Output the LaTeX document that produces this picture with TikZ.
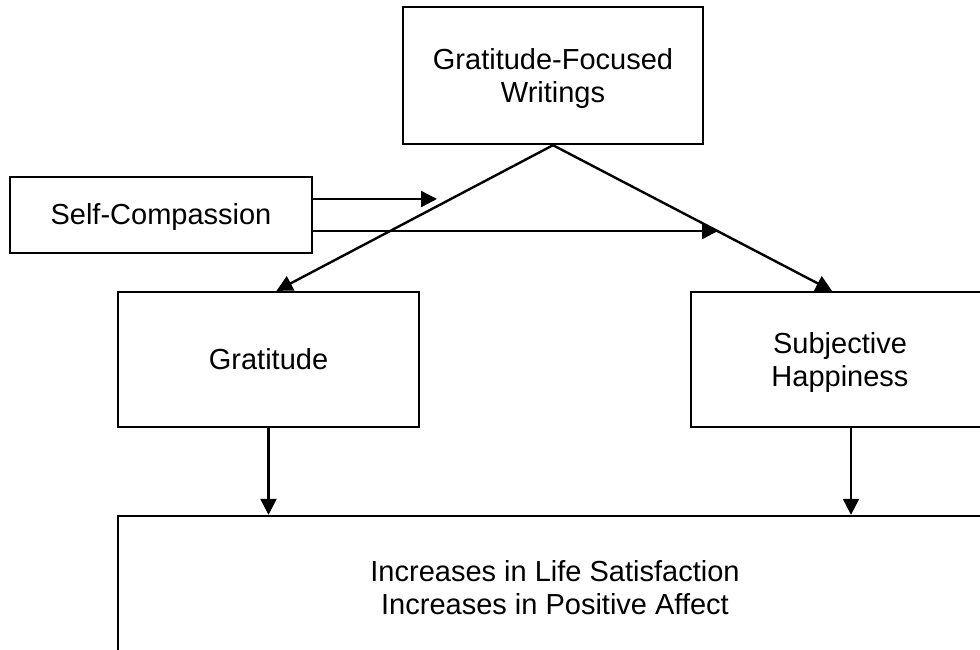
\documentclass[tikz,border=0pt]{standalone}
\usepackage{fontspec}
\setmainfont{Liberation Sans}
\usetikzlibrary{arrows.meta,calc}
\newcommand{\twolines}[2]{\raisebox{-4pt}[\height][\depth]{\begin{tabular}{@{}c@{}}#1\\#2\end{tabular}}}
\begin{document}
\begin{tikzpicture}[x=1pt,y=-1pt,
  box/.style={draw,line width=2.4pt,align=center,inner sep=0pt,
    font=\fontsize{29}{33}\selectfont},
  arr/.style={line width=2.4pt,-{Triangle[length=16pt,width=16pt]}}]
\useasboundingbox (0,0) rectangle (980,649);
\clip (0,0) rectangle (980,649);
\node[box,minimum width=300pt,minimum height=137pt] (top) at (553,75.5) {\twolines{Gratitude-Focused}{Writings}};
\node[box,minimum width=302pt,minimum height=76pt] (sc) at (161,215) {\raisebox{-2pt}[\height][\depth]{Self-Compassion}};
\node[box,minimum width=301pt,minimum height=135pt] (grat) at (268.5,359.5) {Gratitude};
\node[box,minimum width=298pt,minimum height=135pt] (subj) at (840,359.5) {\twolines{Subjective}{Happiness}};
\node[box,minimum width=874pt,minimum height=142pt] (bot) at (555,587) {\twolines{Increases in Life Satisfaction}{Increases in Positive Affect}};
\coordinate (m1) at (437,199);
\coordinate (m2) at (718,231);
\draw[arr] (top.south) -- ($(grat.north)+(8,0)$);
\draw[arr] (top.south) -- ($(subj.north)+(-8,0)$);
\draw[arr] ($(sc.east)+(0,-16)$) -- (m1);
\draw[arr] ($(sc.east)+(0,16)$) -- (m2);
\draw[arr] (grat.south) -- (grat.south |- bot.north);
\coordinate (s1) at ($(subj.south)+(11,0)$);
\draw[arr] (s1) -- (s1 |- bot.north);
\end{tikzpicture}
\end{document}
